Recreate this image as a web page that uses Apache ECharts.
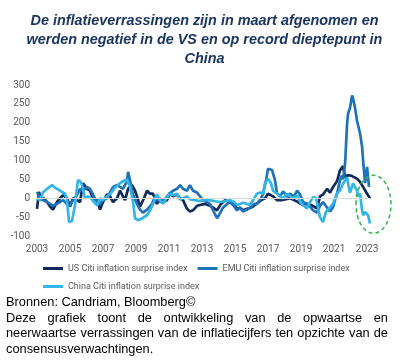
<!DOCTYPE html>
<html>
<head>
<meta charset="utf-8">
<script src="https://cdn.jsdelivr.net/npm/echarts@6/dist/echarts.min.js"></script>
<style>
html,body{margin:0;padding:0;background:#fff;}
#c{position:absolute;left:0;top:0;width:409px;height:362px;}
#note{position:absolute;left:6px;top:294px;width:382px;font-family:'Liberation Sans',Arial,sans-serif;font-size:12.8px;line-height:15.5px;color:#000;}
#note .j{text-align:justify;}
</style>
</head>
<body>
<div id="c"></div>
<div id="note">
<div>Bronnen: Candriam, Bloomberg©</div>
<div class="j">Deze grafiek toont de ontwikkeling van de opwaartse en neerwaartse verrassingen van de inflatiecijfers ten opzichte van de consensusverwachtingen.</div>
</div>
<script>
var titleLines = ['De inflatieverrassingen zijn in maart afgenomen en', 'werden negatief in de VS en op record dieptepunt in', 'China'];
var seriesNames = ['US Citi inflation surprise index', 'EMU Citi inflation surprise index', 'China Citi inflation surprise index'];
var yTicks = [-100, -50, 0, 50, 100, 150, 200, 250, 300];
var xTickYears = [2003, 2005, 2007, 2009, 2011, 2013, 2015, 2017, 2019, 2021, 2023];

var usYears = [2003.00,2003.12,2003.24,2003.42,2003.61,2003.79,2003.97,2004.21,2004.39,2004.58,
2004.82,2005.00,2005.18,2005.42,2005.61,2005.79,2006.03,2006.21,2006.39,2006.64,
2006.82,2007.00,2007.24,2007.42,2007.61,2007.85,2008.03,2008.21,2008.33,2008.52,
2008.76,2008.94,2009.06,2009.24,2009.48,2009.67,2009.85,2010.03,2010.27,2010.45,
2010.64,2010.88,2011.06,2011.24,2011.48,2011.67,2011.85,2012.09,2012.27,2012.45,
2012.70,2012.88,2013.18,2013.48,2013.67,2013.91,2014.15,2014.39,2014.64,2014.88,
2015.12,2015.30,2015.48,2015.73,2015.97,2016.15,2016.33,2016.58,2016.82,2017.00,
2017.12,2017.30,2017.55,2017.79,2018.03,2018.33,2018.58,2018.82,2019.12,2019.36,
2019.61,2019.97,2020.15,2020.33,2020.58,2020.76,2020.94,2021.18,2021.36,2021.55,
2021.67,2021.85,2022.03,2022.15,2022.39,2022.58,2022.76,2023.00,2023.18];
var usValues = [-28,17,-5,0,-10,-22,-30,-10,0,8,
0,-22,0,-5,-10,40,25,20,0,-5,
-30,-10,10,5,-10,0,20,5,-5,25,
35,20,5,-22,0,20,12,12,-15,0,
-10,-5,15,5,10,0,-5,-28,-35,-32,
-20,-18,-15,-20,-25,-32,-15,-5,-10,-15,
-27,-25,-32,-28,-25,-20,-14,-5,0,12,
12,5,-5,-5,-3,0,-5,-10,-18,-15,
-18,-27,5,10,25,15,30,45,74,85,
56,61,60,65,52,43,30,12,0];

var emuYears = [2003.00,2003.18,2003.36,2003.61,2003.79,2003.97,2004.21,2004.39,2004.58,2004.82,
2005.00,2005.18,2005.42,2005.61,2005.79,2006.03,2006.21,2006.39,2006.64,2006.82,
2007.00,2007.24,2007.42,2007.61,2007.85,2008.03,2008.21,2008.45,2008.52,2008.70,
2008.82,2009.06,2009.24,2009.42,2009.67,2009.97,2010.15,2010.45,2010.76,2010.94,
2011.24,2011.48,2011.67,2011.85,2012.09,2012.27,2012.45,2012.70,2012.88,2013.06,
2013.30,2013.48,2013.67,2013.91,2014.09,2014.27,2014.52,2014.70,2014.88,2015.12,
2015.30,2015.48,2015.73,2015.91,2016.15,2016.33,2016.58,2016.70,2016.88,2017.00,
2017.24,2017.42,2017.55,2017.73,2017.91,2018.15,2018.33,2018.58,2018.76,2018.94,
2019.12,2019.36,2019.55,2019.73,2019.97,2020.15,2020.33,2020.58,2020.76,2020.94,
2021.18,2021.36,2021.48,2021.55,2021.67,2021.79,2021.85,2021.97,2022.09,2022.15,
2022.27,2022.39,2022.58,2022.70,2022.76,2022.88,2023.00,2023.06,2023.12];
var emuValues = [17,0,-5,-10,-15,-20,-15,-10,-5,-15,
-20,-5,8,25,20,30,25,10,-10,-15,
-5,0,15,30,35,30,25,45,70,35,
10,-15,-30,-38,-30,-15,5,-10,-2,8,
20,25,35,25,20,35,20,15,5,-5,
-10,-15,-32,-53,-40,-25,-15,-10,-18,-32,
-25,-35,-30,-25,-15,-15,0,12,48,78,
75,48,12,5,18,5,12,5,20,10,
-10,-15,-22,-32,-38,-20,-10,-25,-35,-23,
12,48,60,50,92,197,224,240,272,265,
240,206,171,136,100,40,83,85,30];

var chinaYears = [2003.00,2003.18,2003.36,2003.61,2003.91,2004.09,2004.39,2004.70,2004.82,2004.94,
2005.12,2005.30,2005.48,2005.61,2005.73,2005.91,2006.09,2006.27,2006.45,2006.64,
2006.82,2007.00,2007.24,2007.42,2007.73,2008.03,2008.21,2008.45,2008.64,2008.82,
2008.94,2009.12,2009.30,2009.48,2009.67,2009.85,2010.03,2010.27,2010.45,2010.64,
2010.88,2011.06,2011.24,2011.48,2011.67,2011.85,2012.09,2012.27,2012.58,2012.88,
2013.18,2013.48,2013.79,2014.09,2014.39,2014.70,2014.94,2015.12,2015.30,2015.48,
2015.73,2015.91,2016.09,2016.33,2016.52,2016.70,2016.82,2017.00,2017.18,2017.30,
2017.55,2017.73,2017.91,2018.15,2018.33,2018.52,2018.76,2018.94,2019.12,2019.36,
2019.55,2019.73,2019.91,2020.03,2020.15,2020.33,2020.52,2020.76,2020.94,2021.18,
2021.36,2021.55,2021.79,2021.91,2021.97,2022.15,2022.39,2022.45,2022.58,2022.70,
2022.76,2022.88,2023.00,2023.06,2023.18];
var chinaValues = [0,-5,15,25,35,28,20,12,-5,-63,
-60,-20,48,45,35,0,5,0,-10,-19,
0,-5,5,10,28,40,45,50,30,-10,
-53,-58,-55,-50,-45,-32,-15,10,-5,-15,
3,12,8,12,-3,0,5,-3,-5,-8,
-3,-5,-8,-10,-8,-5,-10,-18,-15,-12,
-15,-18,-5,12,15,12,40,52,40,20,
12,5,0,12,5,0,8,-10,-18,-27,
-10,3,0,-25,-50,-63,-35,-25,-14,12,
21,39,56,25,15,39,21,5,12,-32,
-45,-36,-32,-45,-67];

var colors = ['#0F2B5B', '#1E72B6', '#33B5E8'];

function pairs(xs, ys) { return xs.map(function (x, i) { return [x, ys[i]]; }); }

var chart = echarts.init(document.getElementById('c'), null, {renderer: 'canvas'});
var axisFont = 'Roboto, "Noto Sans", sans-serif';
var legendText = {color: '#595959', fontSize: 9, fontFamily: axisFont};

var option = {
  animation: false,
  backgroundColor: '#fff',
  title: {
    text: titleLines.join('\n'),
    left: 'center',
    top: 7,
    textStyle: {fontFamily: '"Liberation Sans", Arial, sans-serif', fontSize: 14.4, fontWeight: 'bold', fontStyle: 'italic', color: '#1B3562', lineHeight: 19}
  },
  legend: [
    {data: [seriesNames[0], seriesNames[1]], left: 43, top: 264, padding: 0, itemGap: 10, icon: 'rect', itemWidth: 20, itemHeight: 3, textStyle: legendText},
    {data: [seriesNames[2]], left: 43, top: 282, padding: 0, icon: 'rect', itemWidth: 20, itemHeight: 3, textStyle: legendText}
  ],
  grid: {left: 37, right: 37, top: 85, height: 151, containLabel: false},
  xAxis: {
    type: 'value', min: 2003, max: 2023.3, interval: 2,
    axisLine: {show: false}, axisTick: {show: false}, splitLine: {show: false},
    axisLabel: {color: '#595959', fontSize: 10, fontFamily: axisFont, margin: 8,
      formatter: function (v) { return xTickYears.indexOf(Math.round(v * 100) / 100) >= 0 ? String(v) : ''; }}
  },
  yAxis: {
    type: 'value', min: yTicks[0], max: yTicks[yTicks.length - 1], interval: 50,
    axisLine: {show: false}, axisTick: {show: false}, splitLine: {show: false},
    axisLabel: {color: '#595959', fontSize: 10, fontFamily: axisFont, margin: 7}
  },
  series: [
    {name: seriesNames[0], type: 'line', data: pairs(usYears, usValues), showSymbol: false, symbol: 'none',
      lineStyle: {width: 2.7, color: colors[0]}, itemStyle: {color: colors[0]},
      markLine: {silent: true, symbol: 'none', label: {show: false}, lineStyle: {color: '#D9D9D9', width: 1, type: 'solid'}, data: [{yAxis: 0}]}},
    {name: seriesNames[1], type: 'line', data: pairs(emuYears, emuValues), showSymbol: false, symbol: 'none',
      lineStyle: {width: 2.7, color: colors[1]}, itemStyle: {color: colors[1]}},
    {name: seriesNames[2], type: 'line', data: pairs(chinaYears, chinaValues), showSymbol: false, symbol: 'none',
      lineStyle: {width: 2.7, color: colors[2]}, itemStyle: {color: colors[2]}}
  ]
};
chart.setOption(option);

var center = chart.convertToPixel({gridIndex: 0}, [2023.39, -16]);
chart.setOption({
  graphic: [{
    type: 'ellipse', silent: true, z: 100,
    shape: {cx: center[0], cy: center[1], rx: 17.5, ry: 29},
    style: {fill: 'none', stroke: '#35B24A', lineWidth: 1.5, lineDash: [4, 3]}
  }]
});
</script>
</body>
</html>
